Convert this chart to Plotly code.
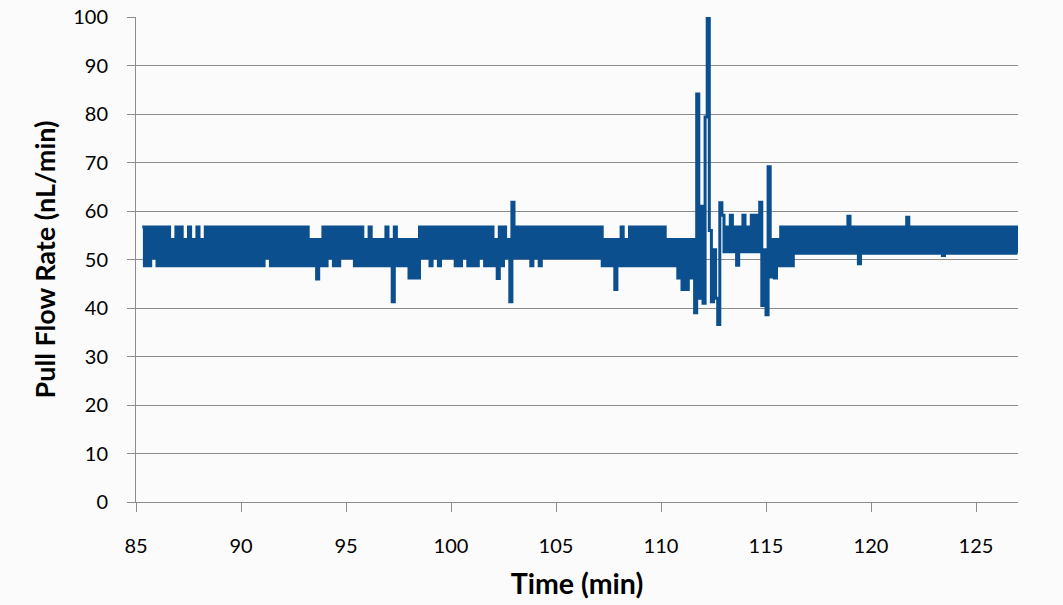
import plotly.graph_objects as go

# Pull flow rate (nL/min), sampled every 0.1 min; each block lists its start time.
SAMPLE_STEP = 0.1

flow_start_1 = 85.3
flow_values_1 = [
    56.7, 48.7, 56.7, 48.7, 56.7, 50.3, 56.7, 48.7, 56.7, 48.7,
    56.7, 48.7, 56.7, 48.7, 54.1, 48.7, 56.7, 48.7, 56.7, 48.7,
    54.1, 48.7, 56.7, 48.7, 54.1, 48.7, 56.7, 48.7, 54.1, 48.7,
    56.7, 48.7, 56.7, 48.7, 56.7, 48.7, 56.7, 48.7, 56.7, 48.7,
    56.7, 48.7, 56.7, 48.7, 56.7, 48.7, 56.7, 48.7, 56.7, 48.7,
    56.7, 48.7, 56.7, 48.7, 56.7, 48.7, 56.7, 48.7, 56.7, 50.3,
    56.7, 48.7, 56.7, 48.7, 56.7, 48.7, 56.7, 48.7, 56.7, 48.7,
    56.7, 48.7, 56.7, 48.7, 56.7, 48.7, 56.7, 48.7, 56.7, 48.7,
]

flow_start_2 = 93.3
flow_values_2 = [
    54.1, 48.7, 54.1, 46.0, 54.1, 48.7, 56.7, 48.7, 56.7, 50.3,
    56.7, 48.7, 56.7, 48.7, 56.7, 50.3, 56.7, 50.3, 56.7, 50.3,
    56.7, 48.7, 56.7, 48.7, 56.7, 48.7, 54.1, 48.7, 56.7, 48.7,
    54.1, 48.7, 54.1, 48.7, 54.1, 48.7, 56.7, 48.7, 54.1, 41.3,
    56.7, 48.7, 54.1, 48.7, 54.1, 48.7, 54.1, 46.2, 54.1, 46.2,
    54.1, 46.2,
]

flow_start_3 = 98.5
flow_values_3 = [
    56.7, 50.3, 56.7, 50.3, 56.7, 48.7, 56.7, 50.3, 56.7, 48.7,
    56.7, 50.3, 56.7, 50.3, 56.7, 50.3, 56.7, 48.7, 56.7, 48.7,
    56.7, 50.3, 56.7, 48.7, 56.7, 48.7, 56.7, 48.7, 56.7, 50.3,
    56.7, 48.7, 56.7, 48.7, 56.7, 48.7, 54.1, 46.1, 56.7, 48.7,
    56.7, 50.3, 54.1, 41.3, 61.8, 50.3, 56.7, 50.3, 56.7, 50.3,
    56.7, 50.3, 56.7, 48.7, 56.7, 50.3, 56.7, 48.7, 56.7, 50.3,
    56.7, 50.3, 56.7, 50.3, 56.7, 50.3, 56.7, 50.3, 56.7, 50.3,
    56.7, 50.3, 56.7, 50.3, 56.7, 50.3, 56.7, 50.3, 56.7, 50.3,
    56.7, 50.3, 56.7, 50.3, 56.7, 50.3, 56.7,
]

flow_start_4 = 107.2
flow_values_4 = [
    48.7, 54.1, 48.7, 54.1, 48.7, 54.1, 43.8, 54.1, 48.7, 56.7,
    48.7, 54.1, 48.7, 56.7, 48.7, 56.7, 48.7, 56.7, 48.7, 56.7,
    48.7, 56.7, 48.7, 56.7, 48.7, 56.7, 48.7, 56.7, 48.7, 56.7,
    48.7, 54.1, 48.7, 54.1, 48.7, 54.1, 46.2, 54.1, 43.8, 54.1,
    43.8, 54.1, 46.2, 54.1, 39.0,
]

flow_start_5 = 111.7
flow_values_5 = [
    84.1, 42.0, 61.0, 41.0, 79.4, 99.7, 56.0, 41.3, 52.0, 42.0,
    36.6, 61.7, 59.1, 51.6, 56.7, 51.6, 59.1, 51.6, 56.7, 48.8,
    56.7, 51.6, 59.1, 51.6, 56.7, 51.6, 59.1, 51.6, 59.1, 51.6,
    61.8, 40.5, 52.0, 38.6, 69.1, 46.4, 54.1, 46.2, 54.1, 48.7,
    56.7, 48.7, 56.7, 48.7, 56.7, 48.7,
]

flow_start_6 = 116.3
flow_values_6 = [
    56.7, 51.3, 56.7, 51.3, 56.7, 51.3, 56.7, 51.3, 56.7, 51.3,
    56.7, 51.3, 56.7, 51.3, 56.7, 51.3, 56.7, 51.3, 56.7, 51.3,
    56.7, 51.3, 56.7, 51.3, 56.7, 51.3, 58.9, 51.3, 56.7, 51.3,
    56.7, 49.1, 56.7, 51.3, 56.7, 51.3, 56.7, 51.3, 56.7, 51.3,
    56.7, 51.3, 56.7, 51.3, 56.7, 51.3, 56.7, 51.3, 56.7, 51.3,
    56.7, 51.3, 56.7, 51.3, 58.7, 51.3, 56.7, 51.3, 56.7, 51.3,
    56.7, 51.3, 56.7, 51.3, 56.7, 51.3, 56.7, 51.3, 56.7, 51.3,
    56.7, 50.8, 56.7, 51.3, 56.7, 51.3, 56.7, 51.3, 56.7, 51.3,
    56.7, 51.3, 56.7, 51.3, 56.7, 51.3, 56.7, 51.3, 56.7, 51.3,
    56.7, 51.3, 56.7, 51.3, 56.7, 51.3, 56.7, 51.3, 56.7, 51.3,
    56.7, 51.3, 56.7, 51.3, 56.7, 51.3, 56.7, 51.3,
]

blocks = [
    (flow_start_1, flow_values_1),
    (flow_start_2, flow_values_2),
    (flow_start_3, flow_values_3),
    (flow_start_4, flow_values_4),
    (flow_start_5, flow_values_5),
    (flow_start_6, flow_values_6),
]

time_min = []
flow_rate = []
for start, values in blocks:
    for k, v in enumerate(values):
        time_min.append(round(start + SAMPLE_STEP * k, 3))
        flow_rate.append(v)

x_ticks = [85, 90, 95, 100, 105, 110, 115, 120, 125]
y_ticks = [0, 10, 20, 30, 40, 50, 60, 70, 80, 90, 100]

AXIS_GREY = "#8c8c8c"
BG = "#fbfbfb"
FONT = "Lato"

fig = go.Figure(
    go.Scatter(
        x=time_min,
        y=flow_rate,
        mode="lines",
        line=dict(color="#0b4f8e", width=3, shape="hv", simplify=False),
        hoverinfo="skip",
        showlegend=False,
    )
)

fig.update_layout(
    width=1063,
    height=605,
    margin=dict(l=136, r=45, t=17, b=103, pad=0),
    paper_bgcolor=BG,
    plot_bgcolor=BG,
    font=dict(family=FONT, color="#000000"),
    xaxis=dict(
        range=[85, 127],
        automargin=False,
        tickmode="array",
        tickvals=x_ticks,
        ticktext=[str(v) for v in x_ticks],
        showgrid=False,
        zeroline=False,
        showline=True,
        linecolor=AXIS_GREY,
        linewidth=1,
        ticks="outside",
        ticklen=9,
        tickwidth=1,
        tickcolor=AXIS_GREY,
        tickfont=dict(family=FONT, size=20, color="#000000"),
        ticklabelstandoff=17,
        title=dict(
            text="Time (min)",
            font=dict(family=FONT, size=28.5, color="#000000", weight="bold"),
            standoff=18,
        ),
    ),
    yaxis=dict(
        range=[0, 100],
        automargin=False,
        tickmode="array",
        tickvals=y_ticks,
        ticktext=[str(v) for v in y_ticks],
        showgrid=True,
        gridcolor=AXIS_GREY,
        gridwidth=1,
        zeroline=False,
        showline=True,
        linecolor=AXIS_GREY,
        linewidth=1,
        ticks="outside",
        ticklen=8,
        tickwidth=1,
        tickcolor=AXIS_GREY,
        tickfont=dict(family=FONT, size=20, color="#000000"),
        ticklabelstandoff=15,
        title=dict(
            text="Pull Flow Rate (nL/min)",
            font=dict(family=FONT, size=27, color="#000000", weight="bold"),
            standoff=9,
        ),
    ),
)

fig.write_html("out.html")
